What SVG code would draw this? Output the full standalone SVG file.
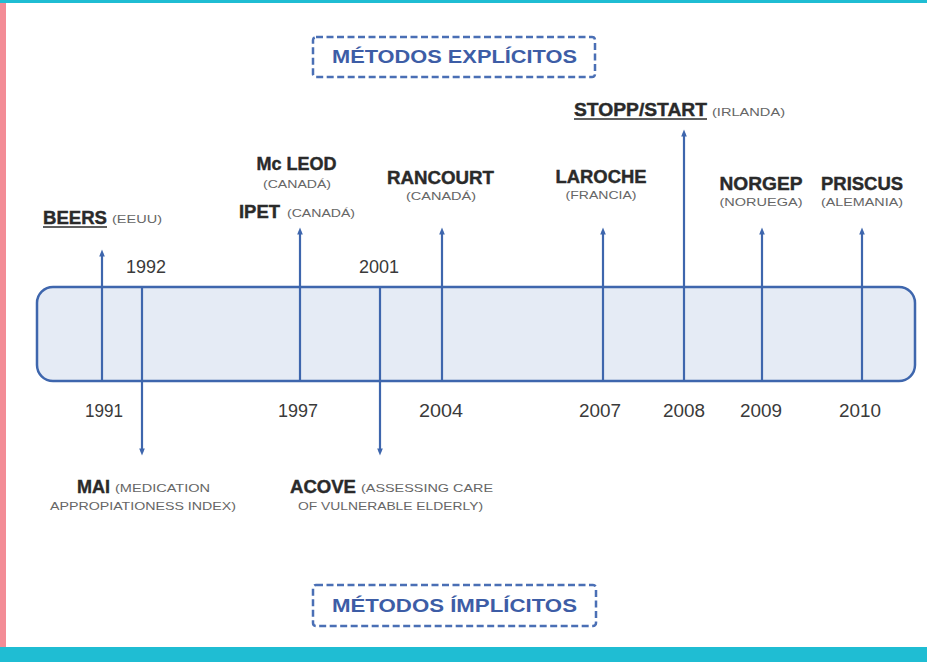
<svg xmlns="http://www.w3.org/2000/svg" width="927" height="662" viewBox="0 0 927 662">
<defs>
<marker id="ah" viewBox="0 0 10 10" refX="5" refY="5" markerWidth="3.2" markerHeight="3.2" orient="auto-start-reverse" markerUnits="strokeWidth">
<path d="M0,1 L10,5 L0,9 Z" fill="#3e66ad"/>
</marker>
<style>
.conn{stroke:#3e66ad;stroke-width:2.2;fill:none}
.arr{marker-end:url(#ah)}
.b{font-family:"Liberation Sans",Arial,sans-serif;font-weight:bold;font-size:18px;fill:#2a2a2a;stroke:#2a2a2a;stroke-width:0.4}
.s{font-family:"Liberation Sans",Arial,sans-serif;font-size:11.5px;fill:#666666}
.y{font-family:"Liberation Sans",Arial,sans-serif;font-size:18px;fill:#3a3a3a;text-anchor:middle}
.t{font-family:"Liberation Sans",Arial,sans-serif;font-weight:bold;font-size:18px;fill:#3d5da6;text-anchor:middle}
.dash{fill:#fff;stroke:#4a6fb5;stroke-width:2.5;stroke-dasharray:7 3.5}
.u{stroke:#2a2a2a;stroke-width:1.4}
</style>
</defs>
<rect x="0" y="0" width="927" height="662" fill="#ffffff"/>
<rect x="0" y="0" width="6" height="648" fill="#f38c96"/>
<rect x="0" y="0" width="927" height="3" fill="#1fbdd3"/>
<rect x="0" y="647" width="927" height="15" fill="#1fbdd3"/>

<g id="explicitos">
<rect class="dash" x="313" y="37" width="282" height="40" rx="3"/>
<text class="t" x="454.5" y="63" textLength="245" lengthAdjust="spacingAndGlyphs">MÉTODOS EXPLÍCITOS</text>
</g>
<g id="implicitos">
<rect class="dash" x="313" y="585" width="283" height="41" rx="3"/>
<text class="t" x="454.5" y="612" textLength="245" lengthAdjust="spacingAndGlyphs">MÉTODOS ÍMPLÍCITOS</text>
</g>

<g id="timeline">
<rect x="37" y="287" width="878" height="94" rx="16" fill="#e5ebf5" stroke="#3e66ad" stroke-width="2.5"/>
</g>

<g id="connectors">
<line class="conn arr" x1="102" y1="381" x2="102" y2="253"/>
<line class="conn arr" x1="142" y1="288" x2="142" y2="452"/>
<line class="conn arr" x1="300" y1="381" x2="300" y2="231"/>
<line class="conn arr" x1="380" y1="288" x2="380" y2="452"/>
<line class="conn arr" x1="442" y1="381" x2="442" y2="231"/>
<line class="conn arr" x1="603" y1="381" x2="603" y2="231"/>
<line class="conn arr" x1="684" y1="381" x2="684" y2="133"/>
<line class="conn arr" x1="762" y1="381" x2="762" y2="231"/>
<line class="conn arr" x1="862" y1="381" x2="862" y2="231"/>
</g>

<g id="years">
<text class="y" x="104" y="417" textLength="38" lengthAdjust="spacingAndGlyphs">1991</text>
<text class="y" x="146" y="273" textLength="40" lengthAdjust="spacingAndGlyphs">1992</text>
<text class="y" x="298" y="417" textLength="40" lengthAdjust="spacingAndGlyphs">1997</text>
<text class="y" x="379" y="273" textLength="40" lengthAdjust="spacingAndGlyphs">2001</text>
<text class="y" x="441" y="417" textLength="44" lengthAdjust="spacingAndGlyphs">2004</text>
<text class="y" x="600" y="417" textLength="42" lengthAdjust="spacingAndGlyphs">2007</text>
<text class="y" x="684" y="417" textLength="42" lengthAdjust="spacingAndGlyphs">2008</text>
<text class="y" x="761" y="417" textLength="42" lengthAdjust="spacingAndGlyphs">2009</text>
<text class="y" x="860" y="417" textLength="42" lengthAdjust="spacingAndGlyphs">2010</text>
</g>

<g id="beers">
<text class="b" x="43" y="224" textLength="64" lengthAdjust="spacingAndGlyphs">BEERS</text>
<line class="u" x1="43" y1="227" x2="107" y2="227"/>
<text class="s" x="112" y="223" textLength="50" lengthAdjust="spacingAndGlyphs">(EEUU)</text>
</g>
<g id="mcleod">
<text class="b" x="296.5" y="170" text-anchor="middle">Mc LEOD</text>
<text class="s" x="297" y="188" text-anchor="middle" textLength="68" lengthAdjust="spacingAndGlyphs">(CANADÁ)</text>
</g>
<g id="ipet">
<text class="b" x="239" y="218" textLength="41" lengthAdjust="spacingAndGlyphs">IPET</text>
<text class="s" x="287" y="217" textLength="68" lengthAdjust="spacingAndGlyphs">(CANADÁ)</text>
</g>
<g id="rancourt">
<text class="b" x="440.5" y="184" text-anchor="middle" textLength="107" lengthAdjust="spacingAndGlyphs">RANCOURT</text>
<text class="s" x="441" y="200" text-anchor="middle" textLength="70" lengthAdjust="spacingAndGlyphs">(CANADÁ)</text>
</g>
<g id="laroche">
<text class="b" x="601" y="183" text-anchor="middle" textLength="91" lengthAdjust="spacingAndGlyphs">LAROCHE</text>
<text class="s" x="601" y="199" text-anchor="middle" textLength="71" lengthAdjust="spacingAndGlyphs">(FRANCIA)</text>
</g>
<g id="stopp">
<text class="b" x="574" y="116" textLength="133" lengthAdjust="spacingAndGlyphs">STOPP/START</text>
<line class="u" x1="574" y1="119" x2="707" y2="119"/>
<text class="s" x="712" y="116" textLength="73" lengthAdjust="spacingAndGlyphs">(IRLANDA)</text>
</g>
<g id="norgep">
<text class="b" x="761" y="190" text-anchor="middle" textLength="83" lengthAdjust="spacingAndGlyphs">NORGEP</text>
<text class="s" x="761" y="206" text-anchor="middle" textLength="83" lengthAdjust="spacingAndGlyphs">(NORUEGA)</text>
</g>
<g id="priscus">
<text class="b" x="862" y="190" text-anchor="middle" textLength="82" lengthAdjust="spacingAndGlyphs">PRISCUS</text>
<text class="s" x="862" y="206" text-anchor="middle" textLength="82" lengthAdjust="spacingAndGlyphs">(ALEMANIA)</text>
</g>
<g id="mai">
<text class="b" x="77" y="493" textLength="33" lengthAdjust="spacingAndGlyphs">MAI</text>
<text class="s" x="115" y="492" textLength="95" lengthAdjust="spacingAndGlyphs">(MEDICATION</text>
<text class="s" x="50" y="510" textLength="186" lengthAdjust="spacingAndGlyphs">APPROPIATIONESS INDEX)</text>
</g>
<g id="acove">
<text class="b" x="290" y="493" textLength="66" lengthAdjust="spacingAndGlyphs">ACOVE</text>
<text class="s" x="361" y="492" textLength="132" lengthAdjust="spacingAndGlyphs">(ASSESSING CARE</text>
<text class="s" x="298" y="510" textLength="185" lengthAdjust="spacingAndGlyphs">OF VULNERABLE ELDERLY)</text>
</g>
</svg>
